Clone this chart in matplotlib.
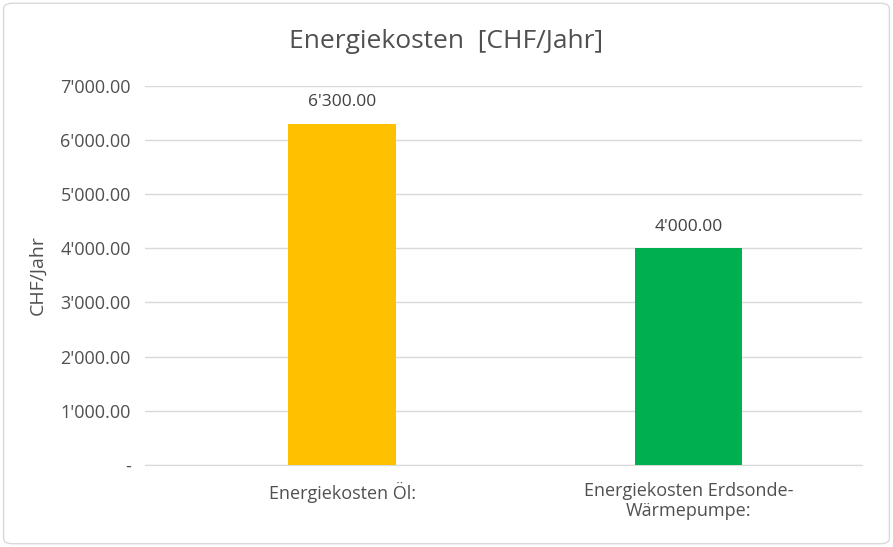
import matplotlib.pyplot as plt
from matplotlib.patches import FancyBboxPatch
from matplotlib.ticker import FuncFormatter

categories = ['Energiekosten Öl:', 'Energiekosten Erdsonde-\nWärmepumpe:']
values = [6300, 4000]
colors = ['#FFC000', '#00B050']
yticks = [0, 1000, 2000, 3000, 4000, 5000, 6000, 7000]

plt.rcParams['font.family'] = ['Open Sans', 'DejaVu Sans']
txt = '#505050'


def fmt(v, _=None):
    if v == 0:
        return '-'
    s = f'{v:,.2f}'
    return s.replace(',', "'")


fig = plt.figure(figsize=(8.93, 5.47), dpi=100)
fig.patches.append(FancyBboxPatch((0.004, 0.006), 0.992, 0.988, boxstyle='round,pad=0,rounding_size=0.01',
                                  transform=fig.transFigure, fill=False, edgecolor='#D9D9D9', linewidth=1))
ax = fig.add_axes([0.162, 0.150, 0.803, 0.693])

x = range(len(categories))
ax.bar(x, values, width=0.31, color=colors, zorder=3)
for xi, v in zip(x, values):
    ax.text(xi, v + 250, fmt(v), ha='center', va='bottom', fontsize=12.5, color='#404040')

ax.set_xlim(-0.57, 1.5)
ax.set_ylim(0, 7000)
ax.set_yticks(yticks)
ax.yaxis.set_major_formatter(FuncFormatter(fmt))
ax.set_xticks(list(x), categories)
ax.grid(axis='y', color='#D9D9D9', linewidth=1, zorder=0)
for s in ['top', 'right', 'left']:
    ax.spines[s].set_visible(False)
ax.spines['bottom'].set_color('#D9D9D9')
ax.tick_params(axis='both', length=0, labelsize=13, colors=txt, pad=10)
ax.tick_params(axis='x', pad=12)
ax.set_ylabel('CHF/Jahr', fontsize=14, color=txt, labelpad=10)
fig.text(0.5, 0.925, 'Energiekosten  [CHF/Jahr]', ha='center', va='center', fontsize=19, color=txt)

fig.savefig('out.png', dpi=100)
